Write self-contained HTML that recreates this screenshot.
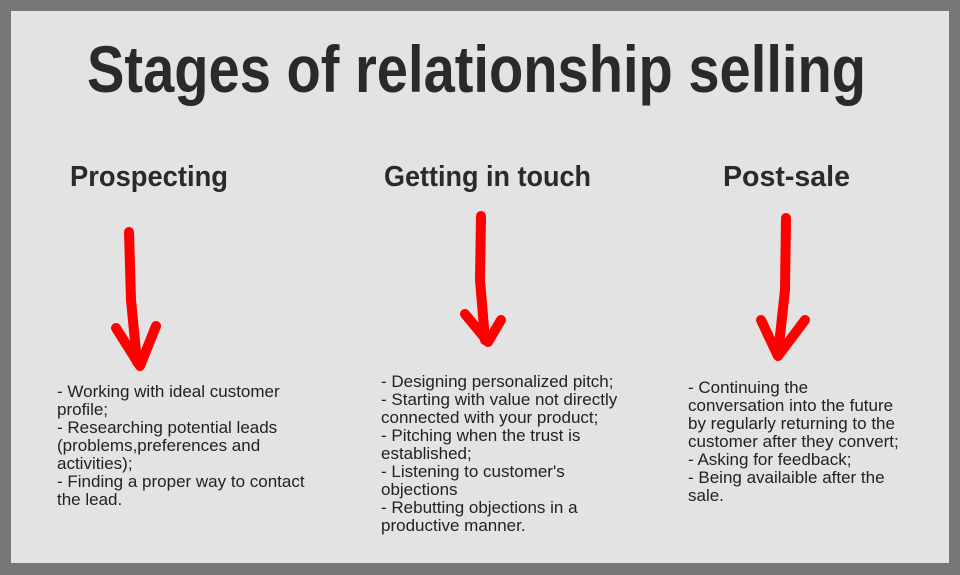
<!DOCTYPE html>
<html><head><meta charset="utf-8"><style>
html,body{margin:0;padding:0;}
body{width:960px;height:575px;background:#767676;position:relative;overflow:hidden;font-family:"Liberation Sans",sans-serif;}
.panel{position:absolute;left:11px;top:11px;width:938px;height:552px;background:#e3e3e3;}
svg{position:absolute;left:0;top:0;}
.t{position:absolute;font-size:17px;line-height:18px;color:#222;white-space:nowrap;}
</style></head><body>
<div class="panel"></div>
<svg width="960" height="575">
<g fill="#2a2a2a" font-family="Liberation Sans, sans-serif" font-weight="bold">
<text x="87" y="92" font-size="66" textLength="779" lengthAdjust="spacingAndGlyphs">Stages of relationship selling</text>
<text x="70" y="186" font-size="29" textLength="158" lengthAdjust="spacingAndGlyphs">Prospecting</text>
<text x="384" y="186" font-size="29" textLength="207" lengthAdjust="spacingAndGlyphs">Getting in touch</text>
<text x="723" y="186" font-size="29" textLength="127" lengthAdjust="spacingAndGlyphs">Post-sale</text>
</g>
<g stroke="#f00" stroke-width="10" stroke-linecap="round" stroke-linejoin="round" fill="none">
<path d="M129 232 L131 300 L137 362"/>
<path d="M116 328 L140 366 L156 326"/>
<path d="M481 216 L480 280 L485 340"/>
<path d="M465 314 L488 342 L501 320"/>
<path d="M786 218 L785 290 L778 354"/>
<path d="M761 320 L778 356 L805 320"/>
</g>
</svg>
<div class="t" style="left:57px;top:383px;">- Working with ideal customer<br>profile;<br>- Researching potential leads<br>(problems,preferences and<br>activities);<br>- Finding a proper way to contact<br>the lead.</div>
<div class="t" style="left:381px;top:373px;">- Designing personalized pitch;<br>- Starting with value not directly<br>connected with your product;<br>- Pitching when the trust is<br>established;<br>- Listening to customer's<br>objections<br>- Rebutting objections in a<br>productive manner.</div>
<div class="t" style="left:688px;top:379px;">- Continuing the<br>conversation into the future<br>by regularly returning to the<br>customer after they convert;<br>- Asking for feedback;<br>- Being availaible after the<br>sale.</div>
</body></html>
